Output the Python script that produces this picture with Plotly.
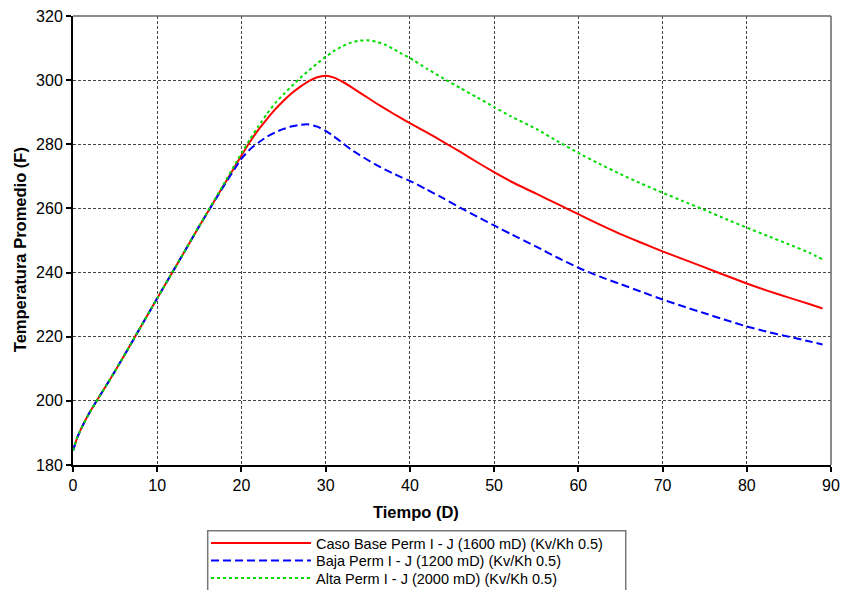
import plotly.graph_objects as go

# ---- data ----
t_red = [0, 0.5, 1, 2, 3, 4, 5, 7.5, 10, 12.5, 15, 17.5, 20, 21, 22, 23, 24, 25, 26, 27, 28, 29, 30, 31, 32, 33, 34, 35, 36, 37, 38, 39, 40, 42, 44, 46, 48, 50, 52, 55, 57.5, 60, 62.5, 65, 67.5, 70, 72.5, 75, 77.5, 80, 82.5, 85, 87.5, 89]
T_red = [184.5, 188.5, 191.5, 196.5, 200.8, 205, 209.3, 220.6, 232, 243.2, 254.5, 265.5, 276.5, 280.7, 284.5, 287.8, 290.9, 293.6, 296, 298, 299.7, 300.9, 301.4, 300.8, 299.5, 297.9, 296.2, 294.5, 292.8, 291.2, 289.6, 288.1, 286.6, 283.7, 280.7, 277.6, 274.4, 271.3, 268.4, 264.6, 261.4, 258.2, 255, 252, 249.3, 246.6, 244.1, 241.6, 239.1, 236.6, 234.3, 232.2, 230.1, 228.8]

t_blue = [0, 0.5, 1, 2, 3, 4, 5, 7.5, 10, 12.5, 15, 17.5, 20, 21, 22, 23, 24, 25, 26, 27, 28, 29, 30, 31, 32, 33, 34, 35, 36, 37, 38, 39, 40, 42, 44, 46, 48, 50, 52, 55, 57.5, 60, 62.5, 65, 67.5, 70, 72.5, 75, 77.5, 80, 82.5, 85, 87.5, 89]
T_blue = [184.5, 188.5, 191.5, 196.5, 200.8, 205, 209.3, 220.6, 232, 243.2, 254.5, 265.3, 275.5, 278.4, 280.5, 282.3, 283.7, 284.8, 285.6, 286.1, 286.2, 285.5, 284.2, 282.4, 280.4, 278.4, 276.7, 275.1, 273.6, 272.2, 270.9, 269.7, 268.6, 265.9, 263.1, 260.2, 257.4, 254.7, 252, 248.1, 244.7, 241.5, 238.8, 236.4, 234, 231.6, 229.4, 227.3, 225.2, 223.2, 221.5, 220, 218.5, 217.6]

t_green = [0, 0.5, 1, 2, 3, 4, 5, 7.5, 10, 12.5, 15, 17.5, 20, 21, 22, 23, 24, 25, 26, 27, 28, 29, 30, 31, 32, 33, 34, 35, 36, 37, 38, 39, 40, 42, 44, 46, 48, 50, 52, 55, 57.5, 60, 62.5, 65, 67.5, 70, 72.5, 75, 77.5, 80, 82.5, 85, 87.5, 89]
T_green = [184.5, 188.5, 191.5, 196.5, 200.8, 205, 209.3, 220.6, 232, 243.2, 254.6, 265.8, 277.2, 281.5, 285.6, 289.4, 292.8, 295.6, 298.2, 300.7, 303, 305.2, 307.3, 309.1, 310.6, 311.7, 312.3, 312.4, 312, 311.1, 309.8, 308.3, 306.9, 303.6, 300.5, 297.5, 294.6, 291.6, 288.7, 284.8, 281, 277.3, 273.9, 270.7, 267.7, 264.9, 262.2, 259.5, 256.7, 254, 251.4, 248.8, 246.1, 244.1]

names = [
    "Caso Base Perm I - J (1600 mD) (Kv/Kh 0.5)",
    "Baja Perm I - J (1200 mD) (Kv/Kh 0.5)",
    "Alta Perm I - J (2000 mD) (Kv/Kh 0.5)",
]
x_ticks = [0, 10, 20, 30, 40, 50, 60, 70, 80, 90]
y_ticks = [180, 200, 220, 240, 260, 280, 300, 320]

FONT = "Liberation Sans, Arial, sans-serif"

fig = go.Figure()
fig.add_trace(go.Scatter(x=t_red, y=T_red, mode="lines", name=names[0], legend="legend",
                         line=dict(color="#ff0000", width=2, dash="solid", shape="spline", smoothing=0.5)))
fig.add_trace(go.Scatter(x=t_blue, y=T_blue, mode="lines", name=names[1], legend="legend2",
                         line=dict(color="#0000ff", width=2, dash="8px,4px", shape="spline", smoothing=0.5)))
fig.add_trace(go.Scatter(x=t_green, y=T_green, mode="lines", name=names[2], legend="legend3",
                         line=dict(color="#00dd00", width=2, dash="3px,3px", shape="spline", smoothing=0.5)))

legend_common = dict(
    x=0.1755, xanchor="left", yanchor="middle",
    bgcolor="rgba(0,0,0,0)", borderwidth=0,
    font=dict(family=FONT, size=14.5, color="black"),
    itemwidth=100,
)
fig.update_layout(
    width=842, height=590,
    margin=dict(l=73, r=11, t=15.5, b=125, autoexpand=False),
    paper_bgcolor="white", plot_bgcolor="white",
    font=dict(family=FONT, color="black", size=16),
    showlegend=True,
    legend=dict(y=-0.1740, **legend_common),
    legend2=dict(y=-0.2129, **legend_common),
    legend3=dict(y=-0.2518, **legend_common),
)
fig.update_xaxes(
    range=[0, 90], tickvals=x_ticks, ticks="outside", ticklen=5, tickwidth=1.5, tickcolor="black",
    showline=True, linecolor="black", linewidth=2,
    showgrid=True, gridcolor="#444444", gridwidth=1, griddash="3px,2px",
    zeroline=False, tickfont=dict(size=16),
)
fig.update_yaxes(
    range=[180, 320], tickvals=y_ticks, ticks="outside", ticklen=5, tickwidth=1.5, tickcolor="black",
    showline=True, linecolor="black", linewidth=2,
    showgrid=True, gridcolor="#444444", gridwidth=1, griddash="3px,2px",
    zeroline=False, tickfont=dict(size=16),
)
# thin gray top/right frame
fig.add_shape(type="line", xref="paper", yref="paper", x0=0, x1=1, y0=1, y1=1,
              line=dict(color="#666666", width=1.5))
fig.add_shape(type="line", xref="paper", yref="paper", x0=1, x1=1, y0=0, y1=1,
              line=dict(color="#666666", width=1.5))
# legend frame
fig.add_shape(type="rect", xref="paper", yref="paper", x0=0.1777, x1=0.7292, y0=-0.1462, y1=-0.30,
              line=dict(color="#777777", width=1.5), fillcolor="white", layer="below")
# axis titles
fig.add_annotation(text="<b>Tiempo (D)</b>", xref="paper", yref="paper", x=0.453, y=-0.105,
                   showarrow=False, font=dict(family=FONT, size=16.5, color="black"),
                   xanchor="center", yanchor="middle")
fig.add_annotation(text="<b>Temperatura Promedio (F)</b>", xref="paper", yref="paper", x=-0.069, y=0.48,
                   showarrow=False, textangle=-90, font=dict(family=FONT, size=16.5, color="black"),
                   xanchor="center", yanchor="middle")

fig.write_html("out.html")
